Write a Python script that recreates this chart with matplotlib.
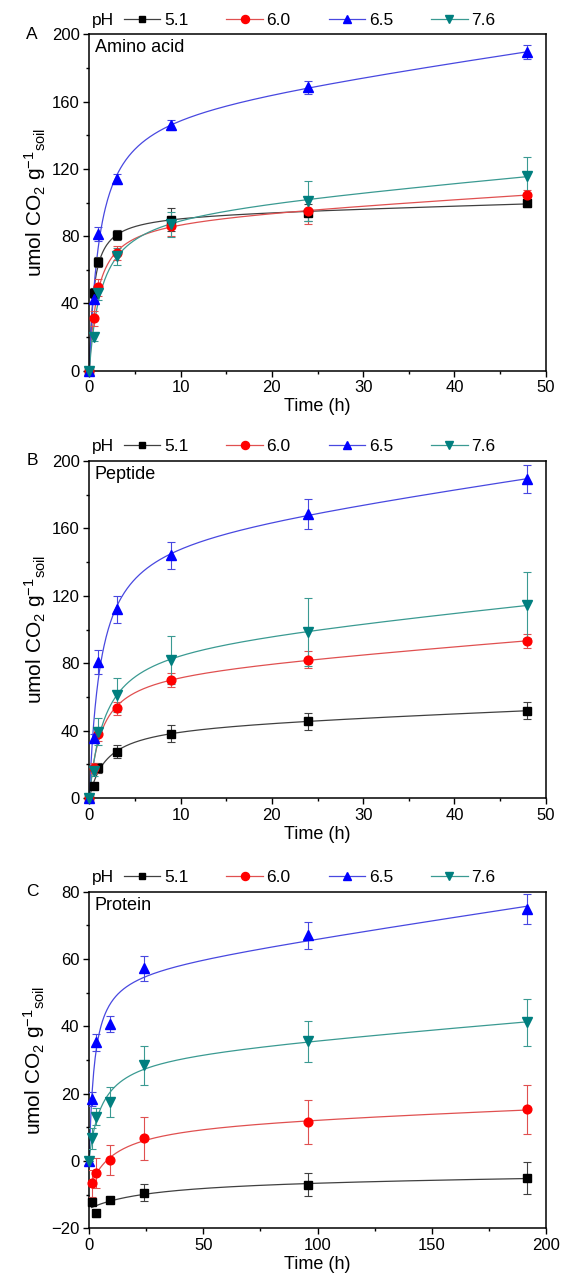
import numpy as np
import matplotlib
matplotlib.use("Agg")
import matplotlib.pyplot as plt
from matplotlib.lines import Line2D
from matplotlib.ticker import MultipleLocator

plt.rcParams['font.family'] = ['Liberation Sans', 'DejaVu Sans']
plt.rcParams['mathtext.fontset'] = 'custom'
plt.rcParams['mathtext.rm'] = 'Liberation Sans'
plt.rcParams['mathtext.it'] = 'Liberation Sans'

nan = np.nan

# ---- Panel A: amino acid ----
A_time = [0, 0.5, 1, 3, 9, 24, 48]
A_ph51 = [0, 46.3, 64.8, 80.6, 89.9, 94.0, 99.5]
A_ph60 = [0, 31.3, 49.5, 70.0, 86.0, 95.0, 104.5]
A_ph65 = [0, 42.4, 81.2, 113.9, 146.0, 168.5, 189.5]
A_ph76 = [0, 20.2, 46.0, 68.0, 87.0, 101.0, 115.8]
A_err51 = [0, 3, 3, 3, 7, 5, 2]
A_err60 = [0, 4.5, 5, 4, 6, 8, 3]
A_err65 = [0, 3, 4, 3, 3, 4, 4]
A_err76 = [0, 2.5, 4, 5, 7.5, 12, 11]

# ---- Panel B: peptide ----
B_time = [0, 0.5, 1, 3, 9, 24, 48]
B_ph51 = [0, 7.3, 17.8, 27.7, 38.3, 45.5, 51.9]
B_ph60 = [0, 17.8, 38.0, 53.2, 70.2, 82.0, 93.2]
B_ph65 = [0, 35.8, 80.8, 112.0, 144.0, 168.5, 189.2]
B_ph76 = [0, 16.4, 39.5, 61.3, 82.0, 98.5, 114.5]
B_err51 = [0, 1, 3, 4, 5, 5, 5]
B_err60 = [0, 3, 4, 4, 4, 5, 4]
B_err65 = [0, 2, 7, 8, 8, 9, 8.5]
B_err76 = [0, 3, 8, 10, 14, 20, 19.5]

# ---- Panel C: protein ----
C_time = [0, 1, 3, 9, 24, 96, 192]
C_ph51 = [nan, -12.2, -15.5, -11.6, -9.4, -7.0, -5.1]
C_ph60 = [nan, -6.6, -3.5, 0.3, 6.7, 11.5, 15.3]
C_ph65 = [0, 18.4, 35.2, 40.7, 57.2, 67.0, 74.8]
C_ph76 = [0, 6.7, 13.2, 17.6, 28.5, 35.5, 41.2]
C_err51 = [0, 1, 1, 1, 2.6, 3.5, 4.7]
C_err60 = [0, 4, 4.5, 4.5, 6.4, 6.5, 7.2]
C_err65 = [0, 2, 2.5, 2.5, 3.8, 4, 4.5]
C_err76 = [0, 3, 2.5, 4.5, 5.8, 6, 7]

ph_labels = ['5.1', '6.0', '6.5', '7.6']
marker_colors = ['#000000', '#FF0000', '#0000FF', '#007F7F']
line_colors = ['#404040', '#E05050', '#4848E0', '#3A9A92']
markers = ['s', 'o', '^', 'v']
marker_sizes = [5.5, 6.3, 6.5, 6.5]


def fit_curve(t, y, intercept):
    """Least-squares fit of y = c0 + a*t/(K+t) + b*t, K chosen on a grid."""
    best = None
    for K in np.logspace(-2, 2.5, 500):
        cols = [t / (K + t), t]
        if intercept:
            cols.insert(0, np.ones_like(t))
        X = np.column_stack(cols)
        coef, *_ = np.linalg.lstsq(X, y, rcond=None)
        r = np.sum((X @ coef - y) ** 2)
        if best is None or r < best[0]:
            best = (r, K, coef)
    _, K, coef = best

    def f(tt):
        cols = [tt / (K + tt), tt]
        if intercept:
            cols.insert(0, np.ones_like(tt))
        return np.column_stack(cols) @ coef
    return f


fig = plt.figure(figsize=(5.62, 12.85), dpi=100)
left, width = 0.1589, 0.8121
panels = [
    dict(rect=[left, 0.7115, width, 0.2618], time=A_time,
         vals=[A_ph51, A_ph60, A_ph65, A_ph76], errs=[A_err51, A_err60, A_err65, A_err76],
         title='Amino acid', letter='A', xlim=(0, 50), xmaj=10, xmin=5,
         ylim=(0, 200), ymaj=40, ymin=20, intercept=False),
    dict(rect=[left, 0.3788, width, 0.2626], time=B_time,
         vals=[B_ph51, B_ph60, B_ph65, B_ph76], errs=[B_err51, B_err60, B_err65, B_err76],
         title='Peptide', letter='B', xlim=(0, 50), xmaj=10, xmin=5,
         ylim=(0, 200), ymaj=40, ymin=20, intercept=False),
    dict(rect=[left, 0.0441, width, 0.2620], time=C_time,
         vals=[C_ph51, C_ph60, C_ph65, C_ph76], errs=[C_err51, C_err60, C_err65, C_err76],
         title='Protein', letter='C', xlim=(0, 200), xmaj=50, xmin=25,
         ylim=(-20, 80), ymaj=20, ymin=10, intercept=True),
]

tick_fs = 12
label_fs = 13
leg_fs = 12.5
for p in panels:
    ax = fig.add_axes(p['rect'])
    t_all = np.array(p['time'], dtype=float)
    for i in range(4):
        y = np.array(p['vals'][i], dtype=float)
        e = np.array(p['errs'][i], dtype=float)
        ok = ~np.isnan(y)
        t, y, e = t_all[ok], y[ok], e[ok]
        f = fit_curve(t, y, p['intercept'])
        tt = np.linspace(t.min(), t.max(), 600)
        ax.plot(tt, f(tt), color=line_colors[i], lw=0.9, zorder=2)
        ax.errorbar(t, y, yerr=e, fmt='none', ecolor=line_colors[i], elinewidth=0.8,
                    capsize=2.6, capthick=0.8, zorder=3)
        ax.plot(t, y, linestyle='none', marker=markers[i], color=marker_colors[i],
                markersize=marker_sizes[i], zorder=4, clip_on=False)

    ax.set_xlim(*p['xlim'])
    ax.set_ylim(*p['ylim'])
    ax.xaxis.set_major_locator(MultipleLocator(p['xmaj']))
    ax.xaxis.set_minor_locator(MultipleLocator(p['xmin']))
    ax.yaxis.set_major_locator(MultipleLocator(p['ymaj']))
    ax.yaxis.set_minor_locator(MultipleLocator(p['ymin']))
    ax.tick_params(which='major', direction='out', length=4.5, width=1.0,
                   labelsize=tick_fs, pad=2.5)
    ax.tick_params(which='minor', direction='out', length=2.5, width=1.0)
    for s in ax.spines.values():
        s.set_linewidth(1.1)
    ax.set_xlabel('Time (h)', fontsize=label_fs, labelpad=2)
    ax.set_ylabel(r'umol CO$_2$ g$^{-1}{}_{\mathrm{soil}}$', fontsize=15, labelpad=3)
    ax.text(0.012, 0.985, p['title'], transform=ax.transAxes, ha='left', va='top',
            fontsize=13)

    # panel letter left of the top tick label
    bbox = ax.get_position()
    fig.text(0.047, bbox.y1, p['letter'], ha='left', va='center', fontsize=tick_fs + 0.5)

    # legend row above the axes
    ax.text(0.005, 1.042, 'pH', transform=ax.transAxes, ha='left', va='center',
            fontsize=leg_fs)
    handles = [Line2D([], [], color=line_colors[i], lw=0.9, marker=markers[i],
                      markerfacecolor=marker_colors[i], markeredgecolor=marker_colors[i],
                      markersize=marker_sizes[i] - 0.5) for i in range(4)]
    ax.legend(handles, ph_labels, loc='center left', bbox_to_anchor=(0.076, 1.042),
              ncol=4, frameon=False, fontsize=leg_fs, handlelength=2.1, handletextpad=0.2,
              columnspacing=2.2, borderpad=0, borderaxespad=0)

fig.savefig('out.png', dpi=100)
